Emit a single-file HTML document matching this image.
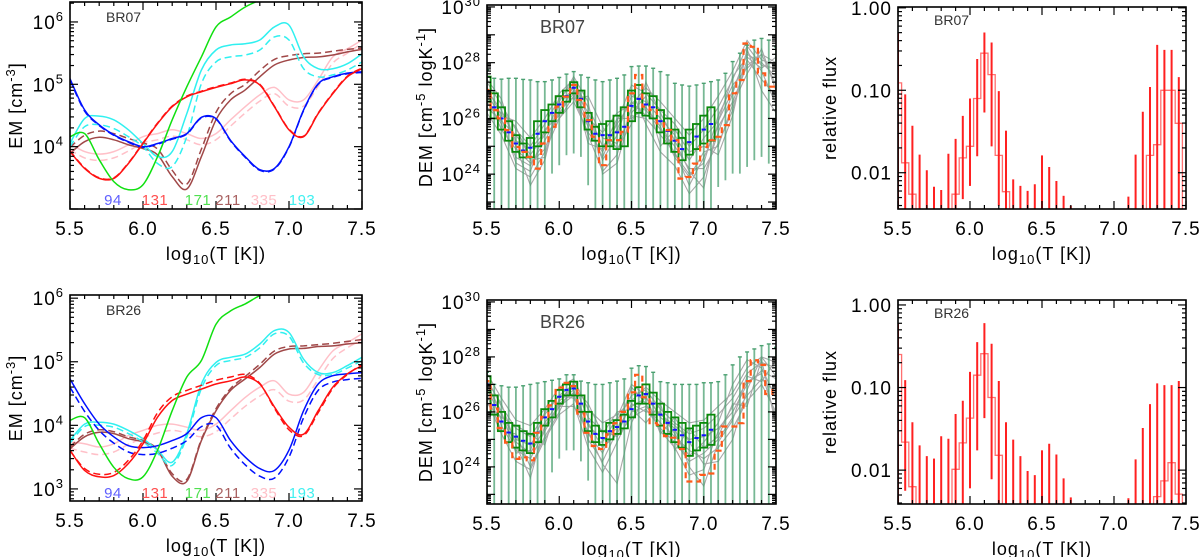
<!DOCTYPE html>
<html><head><meta charset="utf-8"><style>
html,body{margin:0;padding:0;background:#fff;}
svg{display:block;font-family:"Liberation Sans",sans-serif;}
</style></head><body>
<svg id="fig" width="1200" height="557" viewBox="0 0 1200 557" xmlns="http://www.w3.org/2000/svg"></svg>
<script>
// ---------- data ----------
const tGrid = [5.5,5.6,5.7,5.8,5.9,6.0,6.1,6.2,6.3,6.4,6.5,6.6,6.7,6.8,6.9,7.0,7.1,7.2,7.3,7.4,7.5];
const tFine = [5.5,5.55,5.6,5.65,5.7,5.75,5.8,5.85,5.9,5.95,6.0,6.05,6.1,6.15,6.2,6.25,6.3,6.35,6.4,6.45,6.5,6.55,6.6,6.65,6.7,6.75,6.8,6.85,6.9,6.95,7.0,7.05,7.1,7.15,7.2,7.25,7.3,7.35,7.4,7.45,7.5];
const channelLabels = ["94","131","171","211","335","193"];
// EM loci (log10), BR07
const br07Blue = [5.09,4.59,4.35,4.19,4.08,4.0,4.05,4.13,4.21,4.47,4.45,4.1,3.84,3.63,3.65,4.0,4.59,5.01,5.12,5.18,5.2];
const br07BlueD = [5.07,4.57,4.34,4.18,4.07,3.99,4.04,4.12,4.2,4.46,4.44,4.09,3.83,3.62,3.64,3.99,4.58,5.0,5.11,5.17,5.19];
const br07Red = [3.92,3.65,3.49,3.49,3.73,4.05,4.37,4.64,4.8,4.88,4.95,5.01,5.07,4.99,4.64,4.27,4.16,4.53,4.85,5.12,5.25];
const br07RedD = [3.93,3.66,3.5,3.5,3.74,4.06,4.38,4.65,4.81,4.89,4.96,5.02,5.08,5.0,4.65,4.28,4.17,4.54,4.86,5.13,5.26];
const br07Green = [4.16,4.21,3.79,3.44,3.31,3.39,3.84,4.43,4.96,5.44,5.92,6.08,6.24,6.35,6.45,6.55,6.65,6.75,6.85,6.95,7.05];
const br07Cyan = [4.05,4.45,4.49,4.43,4.27,4.05,3.84,3.92,4.53,5.23,5.55,5.63,5.65,5.71,5.92,5.95,5.44,5.25,5.25,5.33,5.49];
const br07CyanD = [4.0,4.32,4.35,4.29,4.16,4.0,3.73,3.68,4.16,5.01,5.36,5.44,5.47,5.55,5.76,5.71,5.25,5.12,5.15,5.23,5.36];
const br07Brown = [3.89,4.08,4.15,4.11,4.03,3.97,3.87,3.52,3.32,3.84,4.43,4.75,4.91,5.12,5.31,5.39,5.43,5.44,5.47,5.52,5.56];
const br07BrownD = [3.99,4.18,4.25,4.21,4.13,4.06,3.96,3.62,3.40,3.96,4.55,4.85,5.0,5.22,5.4,5.46,5.49,5.5,5.53,5.56,5.58];
const br07Pink = [4.05,3.92,3.88,3.92,4.03,4.16,4.21,4.27,4.21,4.13,4.21,4.43,4.64,4.83,4.95,4.75,4.75,5.07,5.44,5.57,5.71];
const br07PinkD = [3.95,3.82,3.78,3.82,3.93,4.06,4.11,4.17,4.11,4.03,4.11,4.33,4.54,4.73,4.85,4.65,4.65,4.97,5.34,5.5,5.66];
// EM loci (log10), BR26
const br26Blue = [4.73,4.34,4.02,3.82,3.68,3.65,3.68,3.76,3.87,4.12,4.12,3.76,3.50,3.32,3.29,3.61,4.23,4.65,4.78,4.81,4.83];
const br26BlueD = [4.6,4.22,3.92,3.72,3.58,3.54,3.56,3.64,3.76,3.98,4.0,3.64,3.38,3.2,3.17,3.5,4.12,4.55,4.68,4.72,4.74];
const br26Red = [3.61,3.29,3.19,3.21,3.40,3.71,4.13,4.39,4.49,4.57,4.65,4.70,4.76,4.65,4.29,3.97,3.86,4.23,4.60,4.81,4.94];
const br26RedD = [3.6,3.32,3.23,3.26,3.45,3.76,4.2,4.45,4.55,4.63,4.71,4.76,4.8,4.66,4.27,3.93,3.84,4.2,4.58,4.8,4.96];
const br26Green = [4.08,4.12,3.71,3.34,3.16,3.19,3.61,4.23,4.76,5.02,5.59,5.80,5.91,6.04,6.12,6.2,6.28,6.36,6.44,6.52,6.6];
const br26Cyan = [3.76,4.02,4.05,4.02,3.92,3.79,3.61,3.42,3.87,4.65,4.99,5.07,5.12,5.28,5.49,5.46,5.04,4.83,4.83,4.94,5.07];
const br26CyanD = [3.72,3.98,4.0,3.97,3.87,3.74,3.56,3.37,3.82,4.58,4.94,5.02,5.07,5.22,5.44,5.4,4.98,4.8,4.8,4.9,5.02];
const br26Brown = [3.63,3.82,3.89,3.87,3.79,3.74,3.61,3.2,3.12,3.76,4.23,4.55,4.73,4.91,5.12,5.20,5.21,5.24,5.25,5.28,5.30];
const br26BrownD = [3.66,3.86,3.93,3.9,3.82,3.76,3.62,3.24,3.15,3.78,4.26,4.58,4.77,4.96,5.17,5.24,5.25,5.27,5.29,5.32,5.35];
const br26Pink = [3.74,3.71,3.66,3.71,3.84,3.92,4.0,4.02,3.97,3.92,4.02,4.23,4.44,4.60,4.70,4.49,4.52,4.86,5.17,5.30,5.44];
const br26PinkD = [3.64,3.58,3.54,3.58,3.7,3.8,3.88,3.92,3.88,3.82,3.9,4.1,4.3,4.46,4.56,4.38,4.4,4.72,5.05,5.22,5.35];
// DEM Monte-Carlo realisations (log10), BR07
const br07Mc1 = [27.0,26.3,25.2,24.9,25.5,26.5,27.1,26.2,25.0,25.6,26.8,26.6,26.0,25.4,24.5,25.3,25.9,27.0,28.3,28.0,27.5];
const br07Mc2 = [26.6,25.8,24.6,24.3,25.2,26.2,26.9,25.7,24.6,25.9,27.2,26.9,26.3,25.8,25.0,25.6,26.4,27.4,28.6,27.9,27.8];
const br07Mc3 = [27.3,26.5,25.6,25.0,25.8,26.7,27.3,26.4,25.3,25.1,26.1,26.0,25.4,24.8,23.6,24.6,25.7,26.6,27.9,28.3,27.2];
const br07Mc4 = [26.2,25.4,24.2,23.9,24.8,26.0,26.8,25.4,24.1,24.7,26.4,26.3,25.6,25.0,24.2,24.2,25.1,26.3,28.1,27.4,26.8];
const br07Mc5 = [27.1,26.1,25.9,25.3,26.0,26.9,27.4,26.0,25.5,26.2,26.5,27.1,26.6,26.0,25.4,26.0,26.8,27.7,28.8,28.1,27.9];
const br07Mc6 = [26.8,25.6,24.9,24.4,24.9,26.3,27.0,25.9,24.5,25.4,27.0,25.8,24.8,24.3,23.3,23.9,25.5,26.9,28.4,27.7,26.5];
const br07Mc7 = [26.4,25.9,25.4,24.7,25.4,26.0,26.6,25.5,24.8,25.8,26.6,26.1,25.9,24.7,24.0,24.4,26.1,27.2,27.8,28.3,28.0];
const br07Mc8 = [27.4,26.7,25.0,23.6,24.5,26.6,27.5,26.6,24.0,24.4,26.2,26.8,25.0,25.6,24.8,25.0,24.7,26.1,28.5,27.0,26.2];
const br07Mc9 = [26.9,26.0,24.4,24.1,25.6,26.1,27.2,25.1,24.9,26.0,26.0,26.4,25.7,24.6,23.9,24.8,25.0,26.5,27.6,28.5,27.0];
const br07Mc10 = [26.5,26.2,25.7,24.5,24.6,26.8,26.7,26.8,25.7,24.9,25.8,27.3,26.2,25.2,24.1,23.5,25.9,27.5,28.2,27.8,28.2];
const br07ErrTop = [27.74,27.44,27.41,27.44,27.44,27.40,27.38,27.32,27.32,27.38,27.47,27.59,27.68,27.56,27.47,27.38,27.32,27.38,27.44,27.56,27.86,27.88,27.88,27.80,27.68,27.56,27.26,27.20,27.16,27.20,27.26,27.32,27.38,27.62,28.04,28.34,28.63,28.81,28.87,28.81,28.57];
const br07ErrBot = [22,22,22,22,22,22,22,22,22,24.02,24.32,24.68,24.74,24.62,23.6,22,22,22,22,22,22,22,22,22,22,22,22,22,22,22,22,22,23.54,23.78,24.02,24.02,24.26,24.5,24.62,24.38,24.26];
const br07Reg = [27.02,26.3,26.0,25.58,24.98,24.8,24.62,24.2,25.1,25.7,26.42,26.78,27.2,26.66,25.94,25.34,24.32,25.22,25.22,25.52,26.9,27.56,26.42,26.3,25.82,25.58,25.22,23.84,23.9,24.38,24.98,25.22,25.34,25.76,26.9,27.38,28.69,28.57,27.62,27.14,27.14];
const br07BoxHi = [27.5,26.9,26.4,25.9,25.4,25.1,25.3,25.9,26.3,26.5,26.8,27.0,27.3,27.0,26.2,25.7,25.8,25.9,26.1,26.4,27.0,27.2,26.9,26.8,26.3,26.0,25.6,25.3,25.6,25.8,26.1,26.4];
const br07BoxLo = [26.6,26.0,25.6,25.2,24.8,24.6,24.6,25.0,25.5,25.9,26.2,26.6,26.9,26.4,25.6,25.2,25.0,25.0,24.9,25.0,25.9,26.2,26.1,26.0,25.5,25.1,24.8,24.5,24.7,24.9,25.1,25.2];
const br07Med = [27.0,26.4,26.0,25.5,25.1,24.85,24.95,25.45,25.9,26.2,26.5,26.8,27.1,26.7,25.9,25.45,25.4,25.4,25.5,25.7,26.45,26.7,26.5,26.4,25.9,25.55,25.2,24.9,25.15,25.35,25.6,25.8];
// DEM, BR26
const br26Mc1 = [27.0,25.9,25.0,24.8,25.6,26.4,26.8,25.5,25.0,25.4,26.2,26.5,25.9,25.5,25.0,25.1,25.4,26.0,27.0,27.5,27.2];
const br26Mc2 = [26.7,25.5,24.6,24.3,25.3,26.2,26.6,25.2,24.5,25.7,26.6,26.8,26.1,25.6,25.2,25.4,25.9,26.5,27.4,27.8,27.6];
const br26Mc3 = [27.2,26.2,25.4,25.1,25.9,26.6,27.0,25.8,25.3,25.1,25.8,26.1,25.4,24.9,24.2,24.5,25.0,25.8,26.6,27.2,26.7];
const br26Mc4 = [26.4,25.2,24.2,23.9,25.0,25.9,26.3,24.7,23.8,24.9,26.0,26.2,25.6,25.1,24.6,24.3,24.7,25.4,26.4,27.0,26.0];
const br26Mc5 = [27.4,26.5,25.7,25.5,26.1,26.9,27.2,26.1,25.6,25.9,26.4,26.9,26.4,26.0,25.6,25.7,26.2,26.7,27.6,28.0,27.8];
const br26Mc6 = [26.9,25.7,24.9,24.5,25.4,26.3,26.7,25.0,24.2,25.3,26.9,26.3,25.3,24.7,23.7,23.9,25.3,26.2,27.1,27.4,25.8];
const br26Mc7 = [27.0,26.0,24.5,24.6,26.0,26.6,26.5,25.6,24.7,25.2,26.3,26.0,26.0,25.2,24.4,24.9,25.6,27.0,27.9,27.6,26.5];
const br26Mc8 = [26.6,25.3,25.2,24.0,25.1,26.0,27.1,24.9,24.9,25.8,27.0,26.6,25.2,25.8,24.9,24.1,24.2,25.0,26.8,28.0,27.3];
const br26Mc9 = [27.1,26.3,24.8,23.6,25.5,26.2,26.2,25.3,24.1,23.4,25.6,26.7,25.8,25.4,24.0,23.3,24.9,25.7,27.3,27.1,27.9];
const br26Mc10 = [26.3,25.8,25.5,25.2,24.8,26.5,26.9,26.3,25.2,26.0,26.1,25.6,26.3,24.6,25.4,24.7,25.1,26.3,26.2,27.9,25.5];
const br26ErrTop = [27.44,27.0,26.95,26.9,26.9,26.95,27.0,27.05,27.1,27.15,27.2,27.35,27.35,27.12,27.06,27.0,27.0,27.06,27.12,27.2,27.59,27.68,27.65,27.44,27.1,27.06,27.0,27.0,27.0,27.0,27.06,27.06,27.1,27.35,27.71,28.0,28.18,28.29,28.41,28.47,28.35];
const br26ErrBot = [22,22,22,22,22,22,22,22,22,23.8,24.3,24.6,24.6,24.2,23.5,22,22,22,22,22,22,22,22,22,22,22,22,22,22,22,22,22,22,22,22,22,22,22,22,22,22];
const br26Reg = [27.12,26.12,25.41,24.88,24.29,24.35,24.24,25.24,25.82,26.24,26.88,27.06,26.94,25.94,25.24,24.76,24.65,25.18,25.59,26.0,26.71,27.35,26.53,25.59,25.53,25.12,25.06,24.65,23.47,23.47,23.71,23.76,24.59,25.47,25.47,25.59,27.12,27.88,27.71,26.65,26.88];
const br26BoxHi = [27.3,26.6,26.0,25.6,25.5,25.3,25.2,25.6,26.1,26.4,26.8,27.0,27.1,26.6,26.0,25.5,25.3,25.6,25.7,25.9,26.4,26.9,27.0,26.7,26.3,26.0,25.8,25.6,25.4,25.5,25.6,25.9];
const br26BoxLo = [26.7,25.9,25.3,24.9,24.7,24.6,24.5,24.9,25.5,25.8,26.3,26.6,26.6,26.0,25.3,24.9,24.8,25.0,25.2,25.4,25.8,26.3,26.3,25.9,25.5,25.2,24.9,24.7,24.4,24.6,24.7,24.8];
const br26Med = [27.0,26.25,25.65,25.25,25.1,24.95,24.85,25.25,25.8,26.1,26.55,26.8,26.85,26.3,25.65,25.2,25.05,25.3,25.45,25.65,26.1,26.6,26.65,26.3,25.9,25.6,25.35,25.15,24.9,25.05,25.15,25.35];
// relative flux (log10), null = off-scale
const br07FluxTop = [-0.30,-1.05,-1.43,-1.78,-1.97,-2.17,-2.21,-1.77,-1.59,-1.31,-1.10,-0.62,-0.30,-0.42,-1.01,-1.49,-2.08,-2.16,-2.22,-2.14,-1.79,-1.93,-2.10,-2.28,-2.40,null,null,null,null,null,null,null,-2.29,-1.78,-1.26,-0.96,-0.45,-0.51,-0.51,-0.84,null];
const br07FluxBot = [-3,-3,-3,-3,-3,-3,-3,-3,-3,-2.32,-2.16,-1.80,-1.27,-1.68,-2.40,-3,-3,-3,-3,-3,-3,-3,-3,-3,-3,-3,-3,-3,-3,-3,-3,-3,-3,-3,-3,-3,-3,-3,-3,-3,-3];
const br07FluxStep = [-0.91,-1.88,-2.26,null,null,null,null,null,-2.26,-1.82,-1.68,-1.10,-0.55,-0.81,-1.79,-2.23,null,null,null,null,null,null,null,null,null,null,null,null,null,null,null,null,null,null,null,-1.79,-1.66,-1.0,-1.0,-1.40,null];
const br26FluxTop = [-0.22,-0.91,-1.42,-1.70,-1.83,-1.86,-1.59,-1.62,-1.32,-1.16,-0.81,-0.45,-0.22,-0.47,-0.92,-1.42,-1.63,-1.83,-2.01,-2.06,-1.76,-1.68,-1.81,-2.10,-2.33,null,null,null,null,null,null,null,-2.34,-1.87,-1.49,-1.20,-0.95,-0.97,-0.97,-0.92,null];
const br26FluxBot = [-3,-2.25,-3,-3,-3,-3,-3,-3,-3,-3,-2.22,-1.76,-1.37,-2.11,-3,-3,-3,-3,-3,-3,-3,-3,-3,-3,-3,-3,-3,-3,-3,-3,-3,-3,-3,-3,-3,-3,-3,-3,-3,-3,-3];
const br26FluxStep = [-0.60,-1.66,-2.20,null,null,null,null,null,-1.99,-1.67,-1.37,-0.85,-0.59,-1.12,-1.82,null,null,null,null,null,null,null,null,null,null,null,null,null,null,null,null,null,null,null,null,null,-2.32,-2.13,-1.91,-2.29,null];

// ---------- drawing ----------
const NS = "http://www.w3.org/2000/svg";
const svg = document.getElementById('fig');
function mk(tag, attrs, parent){
  const e = document.createElementNS(NS, tag);
  for (const k in attrs) e.setAttribute(k, attrs[k]);
  (parent || svg).appendChild(e);
  return e;
}
let clipId = 0;
function makePanel(box, name){
  const g = mk('g', {});
  
  
  const id = 'clip' + (clipId++);
  const cp = mk('clipPath', {id: id}, g);
  mk('rect', {x: box.x0, y: box.y0, width: box.x1 - box.x0, height: box.y1 - box.y0}, cp);
  const plot = mk('g', {'clip-path': 'url(#' + id + ')'}, g);
  
  
  return {box: box, g: g, plot: plot,
    sx: v => box.x0 + (v - 5.5) / 2.0 * (box.x1 - box.x0),
    sy: v => box.y1 - (v - box.ymin) / (box.ymax - box.ymin) * (box.y1 - box.y0)};
}
function smoothPath(xs, ys){
  let d = 'M' + xs[0].toFixed(1) + ',' + ys[0].toFixed(1);
  for (let i = 0; i < xs.length - 1; i++){
    const x0 = xs[Math.max(i-1,0)], y0 = ys[Math.max(i-1,0)];
    const x1 = xs[i], y1 = ys[i], x2 = xs[i+1], y2 = ys[i+1];
    const x3 = xs[Math.min(i+2,xs.length-1)], y3 = ys[Math.min(i+2,xs.length-1)];
    const c1x = x1 + (x2 - x0)/6, c1y = y1 + (y2 - y0)/6;
    const c2x = x2 - (x3 - x1)/6, c2y = y2 - (y3 - y1)/6;
    d += 'C' + c1x.toFixed(1)+','+c1y.toFixed(1)+' '+c2x.toFixed(1)+','+c2y.toFixed(1)+' '+x2.toFixed(1)+','+y2.toFixed(1);
  }
  return d;
}
function emCurve(P, vals, color, dashed, name){
  const xs = tGrid.map(P.sx), ys = vals.map(P.sy);
  const p = mk('path', {d: smoothPath(xs, ys), fill: 'none', stroke: color, 'stroke-width': 1.5, 'stroke-dasharray': dashed ? '7,4' : 'none'}, P.plot);
  
  
}
function frame(P, yMajors, yLabelFn, ylabel, ylabelX){
  const b = P.box;
  const fr = mk('rect', {x: b.x0, y: b.y0, width: b.x1-b.x0, height: b.y1-b.y0, fill: 'none', stroke: '#000', 'stroke-width': 1.6}, P.g);
  
  
  const tk = mk('g', {stroke: '#000', 'stroke-width': 1.2}, P.g);
  
  
  for (let i = 0; i <= 20; i++){
    const v = 5.5 + i * 0.1, x = P.sx(v);
    const L = (i % 5 === 0) ? 8 : 4;
    mk('line', {x1: x, y1: b.y1, x2: x, y2: b.y1 - L}, tk);
    mk('line', {x1: x, y1: b.y0, x2: x, y2: b.y0 + L}, tk);
  }
  for (let dec = Math.floor(b.ymin); dec <= Math.ceil(b.ymax); dec++){
    for (let m = 1; m <= 9; m++){
      const v = dec + Math.log10(m);
      if (v < b.ymin || v > b.ymax) continue;
      const y = P.sy(v), L = m === 1 ? 8 : 4;
      mk('line', {x1: b.x0, y1: y, x2: b.x0 + L, y2: y}, tk);
      mk('line', {x1: b.x1, y1: y, x2: b.x1 - L, y2: y}, tk);
    }
  }
  const xl = ['5.5','6.0','6.5','7.0','7.5'];
  xl.forEach((s, i) => {
    const t = mk('text', {x: P.sx(5.5 + i*0.5), y: b.y1 + 26, 'font-size': 19, 'letter-spacing': 1, 'text-anchor': 'middle', fill: '#000'}, P.g);
    t.textContent = s;
    
    
  });
  const xt = mk('text', {x: (b.x0 + b.x1)/2, y: b.y1 + 51, 'font-size': 18, 'letter-spacing': 1, 'text-anchor': 'middle', fill: '#000'}, P.g);
  
  
  xt.innerHTML = 'log<tspan font-size="13" dy="4">10</tspan><tspan dy="-4">(T  [K])</tspan>';
  yMajors.forEach(v => {
    const t = mk('text', {x: b.x0 - 6, y: P.sy(v) + 7, 'font-size': 19, 'letter-spacing': 1, 'text-anchor': 'end', fill: '#000'}, P.g);
    
    
    t.innerHTML = yLabelFn(v);
  });
  const yt = mk('text', {x: ylabelX, y: (b.y0 + b.y1)/2, 'font-size': 18, 'letter-spacing': 1, 'text-anchor': 'middle', fill: '#000', transform: 'rotate(-90 ' + ylabelX + ' ' + ((b.y0+b.y1)/2) + ')'}, P.g);
  
  
  yt.innerHTML = ylabel;
}
function tag(P, s, x, y, size, color, name){
  const t = mk('text', {x: x, y: y, 'font-size': size, fill: color}, P.g);
  t.textContent = s;
  
  
}
const pow = v => '10<tspan font-size="13" dy="-8">' + v + '</tspan>';
const EMY = '<tspan>EM [cm</tspan><tspan font-size="13" dy="-7">-3</tspan><tspan dy="7">]</tspan>';
const DEMY = '<tspan>DEM [cm</tspan><tspan font-size="13" dy="-7">-5</tspan><tspan dy="7"> logK</tspan><tspan font-size="13" dy="-7">-1</tspan><tspan dy="7">]</tspan>';

function emPanel(box, name, region, s, y0lab, majors){
  const P = makePanel(box, name);
  emCurve(P, s.pink, '#ffc0c8', false, 'em-335-solid');
  emCurve(P, s.pinkD, '#ffc0c8', true, 'em-335-dashed');
  emCurve(P, s.brown, '#a04848', false, 'em-211-solid');
  emCurve(P, s.brownD, '#a04848', true, 'em-211-dashed');
  emCurve(P, s.cyan, '#30f0f0', false, 'em-193-solid');
  emCurve(P, s.cyanD, '#30f0f0', true, 'em-193-dashed');
  emCurve(P, s.blueD, '#0010ff', true, 'em-94-dashed');
  emCurve(P, s.blue, '#0010ff', false, 'em-94-solid');
  emCurve(P, s.redD, '#ff1010', true, 'em-131-dashed');
  emCurve(P, s.red, '#ff1010', false, 'em-131-solid');
  emCurve(P, s.green, '#10e010', false, 'em-171-solid');
  frame(P, majors, pow, EMY, 22);
  tag(P, region, 106, box.y0 + 20, 14, '#333', 'region-label');
  const cols = ['#6060ff','#ff5050','#50e050','#a86060','#ffc0c8','#40f0f0'];
  const cx = [113,155,198,228,264,302];
  channelLabels.forEach((c, i) => {
    const t = mk('text', {x: cx[i], y: y0lab, 'font-size': 15, 'letter-spacing': 0.5, 'text-anchor': 'middle', fill: cols[i]}, P.g);
    t.textContent = c;
    
    
  });
}
function demPanel(box, name, region, mcs, errTop, errBot, reg, hi, lo, med){
  const P = makePanel(box, name);
  mcs.forEach((arr, k) => {
    const pts = arr.map((v, i) => P.sx(tGrid[i]).toFixed(1) + ',' + P.sy(v).toFixed(1)).join(' ');
    const pl = mk('polyline', {points: pts, fill: 'none', stroke: '#a8a8a8', 'stroke-width': 1.1}, P.plot);
    
    
  });
  errTop.forEach((v, i) => {
    const x = P.sx(tFine[i]);
    const l = mk('line', {x1: x, y1: P.sy(v), x2: x, y2: P.sy(errBot[i]), stroke: '#4aa070', 'stroke-width': 1.8, 'stroke-opacity': 0.75}, P.plot);
    
    
    const c = mk('line', {x1: x-2, y1: P.sy(v), x2: x+2, y2: P.sy(v), stroke: '#4aa070', 'stroke-width': 1.4}, P.plot);
    
    
  });
  const hw = (P.sx(5.55) - P.sx(5.5)) / 2;
  hi.forEach((v, i) => {
    const x = P.sx(tFine[i]);
    const r = mk('rect', {x: x - hw, y: P.sy(v), width: 2*hw, height: P.sy(lo[i]) - P.sy(v), fill: 'none', stroke: '#0a8a0a', 'stroke-width': 1.8}, P.plot);
    
    
    const m = mk('line', {x1: x - hw*0.6, y1: P.sy(med[i]), x2: x + hw*0.6, y2: P.sy(med[i]), stroke: '#1010ff', 'stroke-width': 2}, P.plot);
    
    
  });
  let d = '';
  reg.forEach((v, i) => {
    const x = P.sx(tFine[i]), y = P.sy(v);
    d += (i === 0 ? 'M' : 'L') + (x-hw).toFixed(1) + ',' + y.toFixed(1) + 'L' + (x+hw).toFixed(1) + ',' + y.toFixed(1);
  });
  const rp = mk('path', {d: d, fill: 'none', stroke: '#ff5a1a', 'stroke-width': 2.2, 'stroke-dasharray': '6,4'}, P.plot);
  
  
  frame(P, [24,26,28,30], pow, DEMY, 432);
  tag(P, region, 540, box.y0 + 28, 18, '#444', 'region-label');
}
function fluxPanel(box, name, region, top, bot, step){
  const P = makePanel(box, name);
  const hw = (P.sx(5.55) - P.sx(5.5)) / 2;
  let d = '';
  step.forEach((v, i) => {
    const x = P.sx(tFine[i]);
    const y = v === null ? box.y1 + 20 : P.sy(v);
    d += (i === 0 ? 'M' : 'L') + (x-hw).toFixed(1) + ',' + y.toFixed(1) + 'L' + (x+hw).toFixed(1) + ',' + y.toFixed(1);
  });
  const sp = mk('path', {d: d, fill: 'none', stroke: '#ff7070', 'stroke-width': 1.3}, P.plot);
  
  
  top.forEach((v, i) => {
    if (v === null) return;
    const x = P.sx(tFine[i]);
    const l = mk('line', {x1: x, y1: P.sy(v), x2: x, y2: P.sy(bot[i]), stroke: '#ff2020', 'stroke-width': 2}, P.plot);
    
    
  });
  frame(P, [-2,-1,0], v => ({'-2':'0.01','-1':'0.10','0':'1.00'})[v], 'relative flux', 836);
  tag(P, region, 934, box.y0 + 18, 14, '#333', 'region-label');
}

emPanel({x0:70,x1:362,y0:2,y1:209,ymin:3.0,ymax:6.32}, 'em-loci-br07', 'BR07',
  {blue:br07Blue,blueD:br07BlueD,red:br07Red,redD:br07RedD,green:br07Green,cyan:br07Cyan,cyanD:br07CyanD,brown:br07Brown,brownD:br07BrownD,pink:br07Pink,pinkD:br07PinkD}, 205, [4,5,6]);
emPanel({x0:70,x1:362,y0:295,y1:501,ymin:2.81,ymax:6.05}, 'em-loci-br26', 'BR26',
  {blue:br26Blue,blueD:br26BlueD,red:br26Red,redD:br26RedD,green:br26Green,cyan:br26Cyan,cyanD:br26CyanD,brown:br26Brown,brownD:br26BrownD,pink:br26Pink,pinkD:br26PinkD}, 498, [3,4,5,6]);
demPanel({x0:487,x1:776,y0:5,y1:209,ymin:22.75,ymax:30.07}, 'dem-br07', 'BR07',
  [br07Mc1,br07Mc2,br07Mc3,br07Mc4,br07Mc5,br07Mc6,br07Mc7,br07Mc8,br07Mc9,br07Mc10], br07ErrTop, br07ErrBot, br07Reg, br07BoxHi, br07BoxLo, br07Med);
demPanel({x0:487,x1:776,y0:300,y1:504,ymin:22.65,ymax:30.07}, 'dem-br26', 'BR26',
  [br26Mc1,br26Mc2,br26Mc3,br26Mc4,br26Mc5,br26Mc6,br26Mc7,br26Mc8,br26Mc9,br26Mc10], br26ErrTop, br26ErrBot, br26Reg, br26BoxHi, br26BoxLo, br26Med);
fluxPanel({x0:898,x1:1186,y0:7,y1:209,ymin:-2.44,ymax:0.01}, 'flux-br07', 'BR07', br07FluxTop, br07FluxBot, br07FluxStep);
fluxPanel({x0:898,x1:1186,y0:300,y1:504,ymin:-2.41,ymax:0.06}, 'flux-br26', 'BR26', br26FluxTop, br26FluxBot, br26FluxStep);
</script>
</body></html>
